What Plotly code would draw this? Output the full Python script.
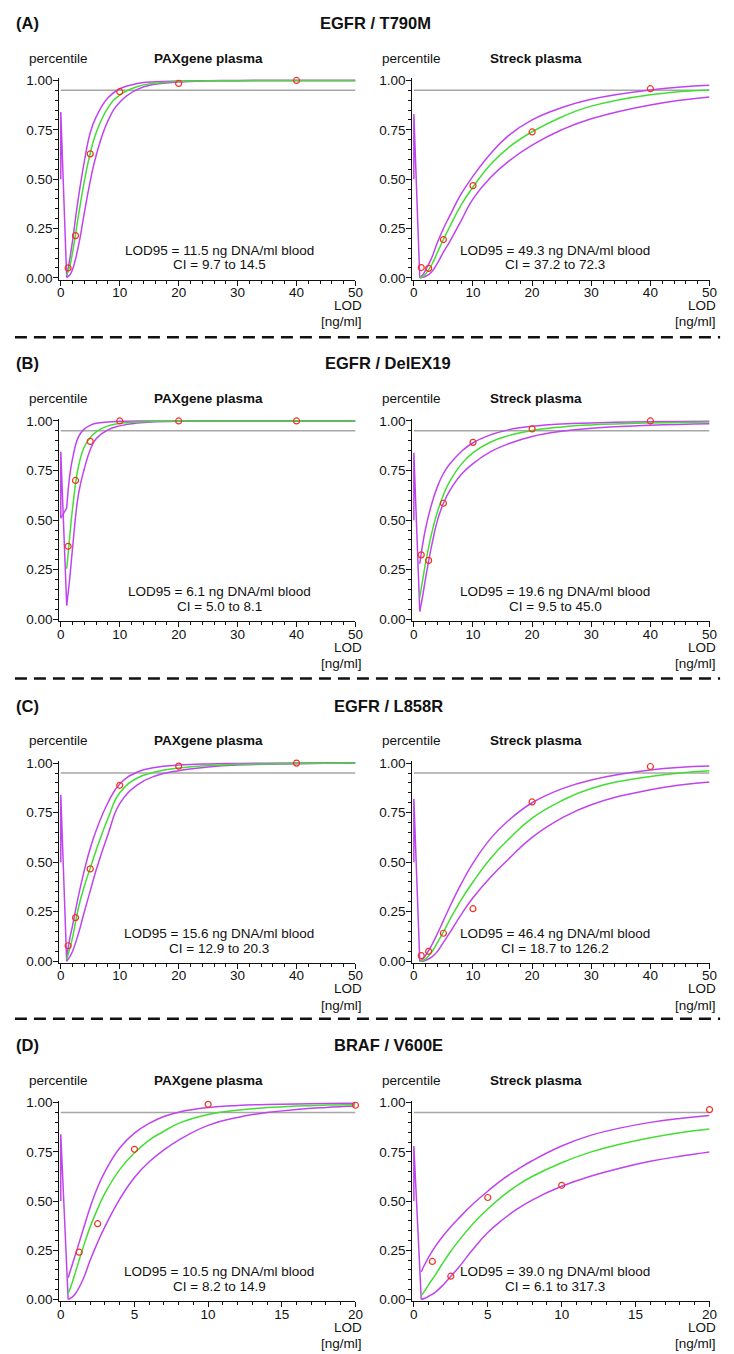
import plotly.graph_objects as go

# ---------------- data ----------------
THRESHOLD = 0.95
GRID50 = [1, 1.5, 2, 3, 4, 5, 6, 8, 10, 13, 16, 20, 25, 30, 40, 50]
GRID20 = [0.5, 0.75, 1, 1.5, 2, 2.5, 3, 4, 5, 6, 7, 8, 10, 12, 14, 16, 18, 20]
PTS50_X = [1.25, 2.5, 5, 10, 20, 40]
PTS20_X = [1.25, 2.5, 5, 10, 20]

# (A) EGFR / T790M
A_PAX_FIT = [0.013, 0.056, 0.129, 0.315, 0.491, 0.631, 0.735, 0.861, 0.926, 0.969, 0.986, 0.995, 0.998, 0.999, 1.0, 1.0]
A_PAX_UP = [0.01, 0.09, 0.189, 0.408, 0.59, 0.735, 0.815, 0.912, 0.958, 0.984, 0.993, 0.997, 0.999, 1.0, 1.0, 1.0]
A_PAX_LO = [0.002, 0.013, 0.043, 0.162, 0.33, 0.49, 0.62, 0.795, 0.89, 0.955, 0.98, 0.992, 0.998, 0.999, 1.0, 1.0]
A_PAX_LEAD_X = [0, 0, 1]
A_PAX_LEAD_Y = [0.5, 0.84, 0.002]
A_PAX_PTS = [0.05, 0.214, 0.628, 0.943, 0.985, 1.0]

A_STR_FIT = [0.0, 0.006, 0.02, 0.065, 0.13, 0.194, 0.255, 0.37, 0.46, 0.575, 0.66, 0.74, 0.815, 0.87, 0.928, 0.952]
A_STR_UP = [0.0, 0.015, 0.04, 0.1, 0.18, 0.25, 0.31, 0.425, 0.515, 0.63, 0.72, 0.80, 0.862, 0.905, 0.952, 0.975]
A_STR_LO = [0.0, 0.003, 0.008, 0.03, 0.075, 0.13, 0.18, 0.29, 0.40, 0.51, 0.59, 0.672, 0.75, 0.806, 0.876, 0.916]
A_STR_LEAD_X = [0, 0, 1]
A_STR_LEAD_Y = [0.5, 0.83, 0.0]
A_STR_PTS = [0.052, 0.048, 0.194, 0.467, 0.739, 0.958]

# (B) EGFR / DelEX19
B_PAX_FIT = [0.255, 0.41, 0.56, 0.77, 0.87, 0.915, 0.945, 0.975, 0.988, 0.995, 0.998, 1.0, 1.0, 1.0, 1.0, 1.0]
B_PAX_UP = [0.56, 0.72, 0.81, 0.92, 0.96, 0.978, 0.988, 0.995, 0.998, 1.0, 1.0, 1.0, 1.0, 1.0, 1.0, 1.0]
B_PAX_LO = [0.07, 0.2, 0.36, 0.63, 0.76, 0.855, 0.91, 0.955, 0.975, 0.99, 0.996, 0.998, 1.0, 1.0, 1.0, 1.0]
B_PAX_LEAD_X = [0, 0, 1]
B_PAX_LEAD_Y = [0.51, 0.845, 0.07]
B_PAX_UPLEAD_X = [0, 1]
B_PAX_UPLEAD_Y = [0.51, 0.56]
B_PAX_PTS = [0.368, 0.70, 0.897, 1.0, 1.0, 1.0]

B_STR_FIT = [0.109, 0.20, 0.287, 0.432, 0.543, 0.627, 0.691, 0.781, 0.84, 0.894, 0.926, 0.952, 0.97, 0.98, 0.99, 0.995]
B_STR_UP = [0.28, 0.38, 0.46, 0.58, 0.67, 0.735, 0.78, 0.845, 0.89, 0.93, 0.955, 0.973, 0.985, 0.99, 0.996, 0.998]
B_STR_LO = [0.04, 0.12, 0.21, 0.37, 0.50, 0.585, 0.645, 0.73, 0.785, 0.845, 0.885, 0.922, 0.948, 0.963, 0.978, 0.986]
B_STR_LEAD_X = [0, 0, 1]
B_STR_LEAD_Y = [0.5, 0.84, 0.04]
B_STR_PTS = [0.325, 0.297, 0.585, 0.892, 0.96, 1.0]

# (C) EGFR / L858R
C_PAX_FIT = [0.01, 0.06, 0.12, 0.27, 0.38, 0.47, 0.56, 0.72, 0.85, 0.925, 0.955, 0.975, 0.988, 0.994, 0.998, 1.0]
C_PAX_UP = [0.02, 0.11, 0.18, 0.33, 0.46, 0.57, 0.66, 0.80, 0.895, 0.955, 0.978, 0.99, 0.996, 0.998, 1.0, 1.0]
C_PAX_LO = [0.0, 0.02, 0.05, 0.14, 0.25, 0.355, 0.46, 0.64, 0.795, 0.89, 0.935, 0.962, 0.98, 0.99, 0.997, 1.0]
C_PAX_LEAD_X = [0, 0, 1]
C_PAX_LEAD_Y = [0.5, 0.84, 0.0]
C_PAX_PTS = [0.078, 0.22, 0.466, 0.888, 0.985, 1.0]

C_STR_FIT = [0.0, 0.003, 0.012, 0.045, 0.095, 0.148, 0.205, 0.31, 0.40, 0.52, 0.615, 0.722, 0.81, 0.872, 0.933, 0.962]
C_STR_UP = [0.0, 0.01, 0.03, 0.08, 0.14, 0.205, 0.27, 0.39, 0.495, 0.62, 0.71, 0.80, 0.87, 0.915, 0.965, 0.985]
C_STR_LO = [0.0, 0.0, 0.005, 0.02, 0.05, 0.095, 0.14, 0.235, 0.32, 0.425, 0.515, 0.625, 0.722, 0.79, 0.866, 0.905]
C_STR_LEAD_X = [0, 0, 1]
C_STR_LEAD_Y = [0.5, 0.82, 0.0]
C_STR_PTS = [0.028, 0.05, 0.141, 0.265, 0.804, 0.983]

# (D) BRAF / V600E
D_PAX_FIT = [0.03, 0.08, 0.14, 0.26, 0.37, 0.46, 0.54, 0.66, 0.745, 0.81, 0.855, 0.895, 0.94, 0.962, 0.975, 0.983, 0.988, 0.991]
D_PAX_UP = [0.11, 0.17, 0.23, 0.35, 0.47, 0.57, 0.65, 0.77, 0.845, 0.895, 0.93, 0.952, 0.975, 0.986, 0.991, 0.994, 0.996, 0.997]
D_PAX_LO = [0.0, 0.01, 0.03, 0.1, 0.2, 0.29, 0.37, 0.51, 0.62, 0.70, 0.76, 0.81, 0.885, 0.925, 0.95, 0.966, 0.976, 0.983]
D_PAX_LEAD_X = [0, 0, 0.5]
D_PAX_LEAD_Y = [0.5, 0.84, 0.0]
D_PAX_PTS = [0.24, 0.385, 0.763, 0.992, 0.987]

D_STR_FIT = [0.02, 0.045, 0.075, 0.13, 0.19, 0.245, 0.295, 0.385, 0.46, 0.525, 0.58, 0.625, 0.695, 0.75, 0.79, 0.822, 0.847, 0.866]
D_STR_UP = [0.14, 0.18, 0.215, 0.275, 0.325, 0.37, 0.41, 0.485, 0.55, 0.61, 0.66, 0.705, 0.78, 0.835, 0.872, 0.9, 0.92, 0.935]
D_STR_LO = [0.0, 0.006, 0.016, 0.04, 0.075, 0.118, 0.16, 0.255, 0.34, 0.405, 0.46, 0.505, 0.575, 0.627, 0.668, 0.702, 0.728, 0.75]
D_STR_LEAD_X = [0, 0, 0.5]
D_STR_LEAD_Y = [0.5, 0.78, 0.0]
D_STR_PTS = [0.193, 0.118, 0.518, 0.58, 0.965]

ROW_LETTERS = ['(A)', '(B)', '(C)', '(D)']
ROW_TITLES = ['EGFR / T790M', 'EGFR / DelEX19', 'EGFR / L858R', 'BRAF / V600E']
SUBTITLES = ['PAXgene plasma', 'Streck plasma']
LOD_TEXT = [
    [('11.5', '9.7 to 14.5'), ('49.3', '37.2 to 72.3')],
    [('6.1', '5.0 to 8.1'), ('19.6', '9.5 to 45.0')],
    [('15.6', '12.9 to 20.3'), ('46.4', '18.7 to 126.2')],
    [('10.5', '8.2 to 14.9'), ('39.0', '6.1 to 317.3')],
]
X_MAX = [50, 50, 50, 20]
X_DTICK = [10, 10, 10, 5]
X_MINOR = [2, 2, 2, 1]

# ---------------- layout geometry (pixels of the 734x1354 page) ----------------
OFF = 8                      # default page body margin
W, H = 734 - OFF, 1354 - OFF  # figure size
def PX(x):
    return (x - OFF) / W
def PY(y):
    return 1 - (y - OFF) / H

MAG = '#c044ee'
GRN = '#44dd33'
RED = '#ee3322'
GRAY = '#a6a6a6'
FONT = 'Liberation Sans, Arial, sans-serif'
FS = 13.5

ROW_TOP = [76, 419.3, 764.3, 1106.7]      # pixel y of 1.00
ROW_BOT = [275, 619.3, 964, 1305]         # pixel y of 0.00
COL_LEFT = [58, 416]
COL_RIGHT = [358.3, 717.3]
TITLE_X = [379, 391, 392, 392]
SEP_Y = [335, 679, 1022]

rows = [
    [
        dict(fit=A_PAX_FIT, up=A_PAX_UP, lo=A_PAX_LO, lx=A_PAX_LEAD_X, ly=A_PAX_LEAD_Y, pts=A_PAX_PTS),
        dict(fit=A_STR_FIT, up=A_STR_UP, lo=A_STR_LO, lx=A_STR_LEAD_X, ly=A_STR_LEAD_Y, pts=A_STR_PTS),
    ],
    [
        dict(fit=B_PAX_FIT, up=B_PAX_UP, lo=B_PAX_LO, lx=B_PAX_LEAD_X, ly=B_PAX_LEAD_Y, pts=B_PAX_PTS,
             ux=B_PAX_UPLEAD_X, uy=B_PAX_UPLEAD_Y),
        dict(fit=B_STR_FIT, up=B_STR_UP, lo=B_STR_LO, lx=B_STR_LEAD_X, ly=B_STR_LEAD_Y, pts=B_STR_PTS),
    ],
    [
        dict(fit=C_PAX_FIT, up=C_PAX_UP, lo=C_PAX_LO, lx=C_PAX_LEAD_X, ly=C_PAX_LEAD_Y, pts=C_PAX_PTS),
        dict(fit=C_STR_FIT, up=C_STR_UP, lo=C_STR_LO, lx=C_STR_LEAD_X, ly=C_STR_LEAD_Y, pts=C_STR_PTS),
    ],
    [
        dict(fit=D_PAX_FIT, up=D_PAX_UP, lo=D_PAX_LO, lx=D_PAX_LEAD_X, ly=D_PAX_LEAD_Y, pts=D_PAX_PTS),
        dict(fit=D_STR_FIT, up=D_STR_UP, lo=D_STR_LO, lx=D_STR_LEAD_X, ly=D_STR_LEAD_Y, pts=D_STR_PTS),
    ],
]

fig = go.Figure()
layout = dict(
    width=W, height=H, margin=dict(l=0, r=0, t=0, b=0),
    paper_bgcolor='white', plot_bgcolor='white', showlegend=False,
    font=dict(family=FONT, size=FS, color='#111'),
)
annotations = []
shapes = []

def ann(text, x, y, xanchor='center', size=FS, bold=False):
    if bold:
        text = '<b>' + text + '</b>'
    annotations.append(dict(text=text, x=PX(x), y=PY(y), xref='paper', yref='paper',
                            xanchor=xanchor, yanchor='middle', showarrow=False,
                            font=dict(family=FONT, size=size, color='#111')))

k = 0
for r in range(4):
    grid = GRID50 if X_MAX[r] == 50 else GRID20
    ptsx = PTS50_X if X_MAX[r] == 50 else PTS20_X
    top, bot = ROW_TOP[r], ROW_BOT[r]
    ann(ROW_LETTERS[r], 12, top - 58, xanchor='left', size=16.5, bold=True)
    ann(ROW_TITLES[r], TITLE_X[r], top - 58, size=16.5, bold=True)
    for c in range(2):
        p = rows[r][c]
        k += 1
        xid = 'x' if k == 1 else 'x%d' % k
        yid = 'y' if k == 1 else 'y%d' % k
        xkey = 'xaxis' if k == 1 else 'xaxis%d' % k
        ykey = 'yaxis' if k == 1 else 'yaxis%d' % k
        xlo = -0.25 if X_MAX[r] == 50 else -0.1
        layout[xkey] = dict(
            domain=[PX(COL_LEFT[c]), PX(COL_RIGHT[c])], anchor=yid,
            range=[xlo, X_MAX[r] + 0.001], tickmode='linear', tick0=0, dtick=X_DTICK[r],
            ticks='outside', ticklen=5, tickwidth=1, tickcolor='#111', ticklabelstandoff=-5,
            minor=dict(dtick=X_MINOR[r], tick0=0, ticks='outside', ticklen=3, tickcolor='#111', tickwidth=1),
            showline=True, linecolor='#111', linewidth=1.2, showgrid=False, zeroline=False,
            tickfont=dict(family=FONT, size=FS, color='#111'), fixedrange=True,
        )
        layout[ykey] = dict(
            domain=[PY(bot + 2), PY(top - 2)], anchor=xid,
            range=[-0.01, 1.01], tickmode='linear', tick0=0, dtick=0.25, tickformat='.2f',
            ticks='outside', ticklen=5, tickwidth=1, tickcolor='#111', ticklabelstandoff=-2,
            minor=dict(dtick=0.05, tick0=0, ticks='outside', ticklen=3, tickcolor='#111', tickwidth=1),
            showline=True, linecolor='#111', linewidth=1.2, showgrid=False, zeroline=False,
            tickfont=dict(family=FONT, size=FS, color='#111'), fixedrange=True,
        )
        # threshold line
        fig.add_trace(go.Scatter(x=[0, X_MAX[r]], y=[THRESHOLD, THRESHOLD], mode='lines',
                                 line=dict(color=GRAY, width=1.5), xaxis=xid, yaxis=yid, hoverinfo='skip'))
        # confidence curves
        fig.add_trace(go.Scatter(x=p['lx'], y=p['ly'], mode='lines', line=dict(color=MAG, width=1.5),
                                 xaxis=xid, yaxis=yid))
        if 'ux' in p:
            fig.add_trace(go.Scatter(x=p['ux'], y=p['uy'], mode='lines', line=dict(color=MAG, width=1.5),
                                     xaxis=xid, yaxis=yid))
        for key in ('up', 'lo'):
            fig.add_trace(go.Scatter(x=grid, y=p[key], mode='lines',
                                     line=dict(color=MAG, width=1.5, shape='spline', smoothing=1.3),
                                     xaxis=xid, yaxis=yid))
        fig.add_trace(go.Scatter(x=grid, y=p['fit'], mode='lines',
                                 line=dict(color=GRN, width=1.5, shape='spline', smoothing=1.3),
                                 xaxis=xid, yaxis=yid))
        fig.add_trace(go.Scatter(x=ptsx, y=p['pts'], mode='markers', cliponaxis=False,
                                 marker=dict(symbol='circle-open', size=6, color=RED, line=dict(width=1.2, color=RED)),
                                 xaxis=xid, yaxis=yid))
        # texts
        axis_x = COL_LEFT[c] + 1.5
        ann('percentile', axis_x - 2, top - 22.5)
        sub_x = 209 if c == 0 else 541
        ann(SUBTITLES[c], sub_x, top - 22.5, bold=True)
        lx = 220 if c == 0 else 561
        lod, ci = LOD_TEXT[r][c]
        ann('LOD95 = %s ng DNA/ml blood' % lod, lx, bot - 28)
        ann('CI = %s' % ci, lx, bot - 13)
        rx = 367 if c == 0 else 726
        ann('LOD', rx, bot + 28, xanchor='right')
        ann('[ng/ml]', rx, bot + 44.5, xanchor='right')

for sy in SEP_Y:
    shapes.append(dict(type='line', xref='paper', yref='paper', x0=PX(13), x1=PX(728), y0=PY(sy), y1=PY(sy),
                       line=dict(color='#111', width=2.5, dash='12px,7px')))

layout['annotations'] = annotations
layout['shapes'] = shapes
fig.update_layout(**layout)
fig.write_html('out.html')
